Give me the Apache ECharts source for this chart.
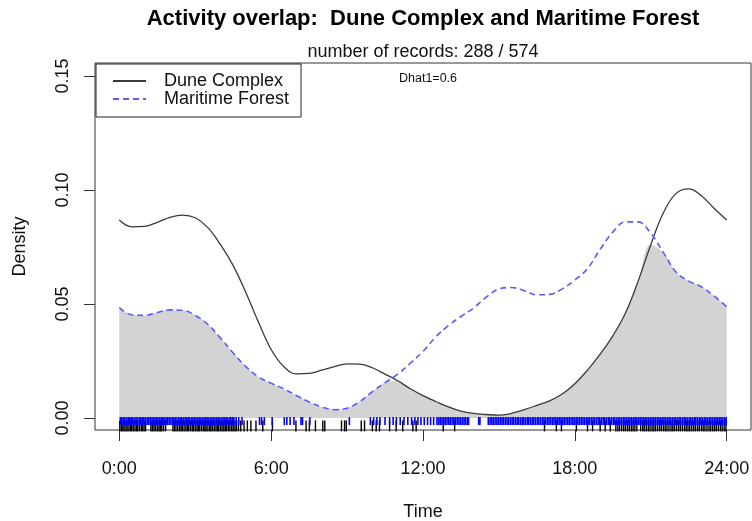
<!DOCTYPE html>
<html><head><meta charset="utf-8">
<script src="https://cdn.jsdelivr.net/npm/echarts@6/dist/echarts.min.js"></script>
<style>html,body{margin:0;padding:0;background:#fff}#c{width:752px;height:521px}</style>
</head><body><div id="c"></div>
<script>
// ---- data ----
const hours = [0,0.5,1,1.5,2,2.5,3,3.5,4,4.5,5,5.5,6,6.5,7,7.5,8,8.5,9,9.5,10,10.5,11,11.5,12,12.5,13,13.5,14,14.5,15,15.5,16,16.5,17,17.5,18,18.5,19,19.5,20,20.5,21,21.5,22,22.5,23,23.5,24];
const duneDensity = [0.0868,0.0838,0.0840,0.0858,0.0880,0.0890,0.0878,0.0835,0.0760,0.0668,0.0550,0.0420,0.0300,0.0225,0.0193,0.0195,0.0210,0.0225,0.0237,0.0236,0.0220,0.0192,0.0163,0.0128,0.0098,0.0072,0.0048,0.0030,0.0020,0.0015,0.0012,0.0020,0.0036,0.0055,0.0075,0.0105,0.0150,0.0210,0.0280,0.0360,0.0460,0.0600,0.0760,0.0900,0.0985,0.1005,0.0975,0.0920,0.0868];
const forestDensity = [0.0484,0.0452,0.0450,0.0462,0.0474,0.0472,0.0450,0.0410,0.0350,0.0285,0.0225,0.0180,0.0152,0.0128,0.0098,0.0070,0.0048,0.0036,0.0042,0.0072,0.0115,0.0155,0.0192,0.0240,0.0292,0.0355,0.0405,0.0445,0.0482,0.0530,0.0565,0.0572,0.0558,0.0540,0.0542,0.0566,0.0605,0.0655,0.0740,0.0815,0.0860,0.0860,0.0810,0.0725,0.0640,0.0600,0.0575,0.0535,0.0488];
const duneRug = [0.02,0.08,0.14,0.19,0.26,0.31,0.38,0.44,0.49,0.55,0.62,0.68,0.73,0.8,0.87,0.92,0.98,1.04,1.25,1.31,1.37,1.43,1.5,1.57,1.62,1.68,1.75,1.83,2.12,2.18,2.24,2.31,2.38,2.44,2.49,2.56,2.63,2.69,2.74,2.81,2.88,2.93,3.0,3.07,3.12,3.18,3.25,3.32,3.38,3.43,3.5,3.57,3.62,3.68,3.75,3.82,3.88,3.93,4.0,4.06,4.13,4.19,4.24,4.31,4.37,4.44,4.5,4.57,4.63,4.71,4.8,4.93,5.06,5.2,5.4,5.67,6.05,6.98,7.38,7.51,7.75,8.04,8.12,8.78,8.9,8.97,9.56,9.69,10.0,10.15,10.28,10.68,10.94,11.2,11.6,11.73,12.8,13.25,16.8,17.27,17.47,18.06,18.5,18.7,19.0,19.2,19.4,19.62,19.7,19.77,19.85,19.93,20.0,20.08,20.15,20.23,20.3,20.37,20.45,20.6,20.68,20.74,20.82,20.9,20.97,21.05,21.12,21.19,21.27,21.35,21.42,21.5,21.57,21.64,21.72,21.8,21.87,21.94,22.02,22.1,22.17,22.25,22.33,22.4,22.47,22.54,22.62,22.7,22.77,22.85,22.92,23.0,23.07,23.14,23.22,23.3,23.37,23.45,23.52,23.59,23.67,23.75,23.82,23.9,23.97];
const forestRug = [0.04,0.1,0.16,0.22,0.29,0.35,0.41,0.47,0.53,0.6,0.66,0.72,0.79,0.85,0.91,0.97,1.03,1.1,1.16,1.22,1.29,1.35,1.41,1.47,1.53,1.6,1.66,1.72,1.78,1.85,1.91,1.97,2.04,2.1,2.16,2.22,2.28,2.35,2.41,2.47,2.54,2.6,2.66,2.72,2.78,2.85,2.91,2.97,3.03,3.1,3.16,3.22,3.29,3.35,3.41,3.47,3.53,3.6,3.66,3.72,3.78,3.85,3.91,3.97,4.04,4.1,4.16,4.22,4.28,4.35,4.41,4.47,4.53,4.62,4.72,4.85,5.54,5.62,5.73,6.04,6.52,6.62,6.75,6.9,7.18,7.24,7.53,9.09,9.92,10.05,10.18,10.3,10.5,10.68,10.82,10.95,11.1,11.25,11.4,11.55,11.68,11.8,11.92,12.05,12.18,12.3,12.42,12.55,12.62,12.68,12.75,12.82,12.88,12.95,13.02,13.08,13.15,13.22,13.28,13.35,13.42,13.48,13.55,13.62,13.68,13.75,13.8,14.2,14.25,14.58,14.65,14.72,14.78,14.85,14.92,14.98,15.05,15.12,15.18,15.25,15.32,15.38,15.45,15.52,15.58,15.65,15.72,15.78,15.85,15.92,15.98,16.05,16.12,16.18,16.25,16.32,16.38,16.45,16.52,16.58,16.65,16.72,16.78,16.85,16.92,16.98,17.05,17.12,17.18,17.25,17.32,17.38,17.45,17.52,17.58,17.65,17.72,17.78,17.85,17.92,17.98,18.05,18.12,18.18,18.25,18.32,18.38,18.45,18.52,18.58,18.65,18.72,18.78,18.85,18.92,18.98,19.05,19.12,19.18,19.25,19.32,19.38,19.45,19.52,19.58,19.65,19.72,19.78,19.85,19.92,19.98,20.05,20.12,20.18,20.25,20.32,20.38,20.45,20.52,20.58,20.65,20.72,20.78,20.85,20.92,20.98,21.05,21.12,21.18,21.25,21.32,21.38,21.45,21.52,21.58,21.65,21.72,21.78,21.85,21.92,21.98,22.05,22.12,22.18,22.25,22.32,22.38,22.45,22.52,22.58,22.65,22.72,22.78,22.85,22.92,22.98,23.05,23.12,23.18,23.25,23.32,23.38,23.45,23.52,23.58,23.65,23.72,23.78,23.85,23.92,23.98];
const xTicks = [0,6,12,18,24];
const xTickLabels = ['0:00','6:00','12:00','18:00','24:00'];
const yTicks = [0,0.05,0.1,0.15];
const yTickLabels = ['0.00','0.05','0.10','0.15'];
const seriesNames = ['Dune Complex','Maritime Forest'];
const titleText = 'Activity overlap:  Dune Complex and Maritime Forest';
const subText = 'number of records: 288 / 574';
const dhatText = 'Dhat1=0.6';

// ---- build ----
const FONT = '"Liberation Sans", Arial, sans-serif';
const duneData = hours.map((h,i)=>[h,duneDensity[i]]);
const forestData = hours.map((h,i)=>[h,forestDensity[i]]);
const overlapData = hours.map((h,i)=>[h,Math.min(duneDensity[i],forestDensity[i])]);
const RUG_A_Y = -0.0035, RUG_B_Y = -0.0014;

const chart = echarts.init(document.getElementById('c'), null, {renderer:'canvas'});
chart.setOption({
  animation:false,
  backgroundColor:'#fff',
  grid:{left:95,right:1,top:63,bottom:91,show:true,borderColor:'#333',borderWidth:1,backgroundColor:'transparent',
    containLabel:false,outerBoundsMode:'none'},
  xAxis:{type:'value',min:-0.96,max:24.96,
    name:'Time',nameLocation:'middle',nameGap:73,nameTextStyle:{fontFamily:FONT,fontSize:18,color:'#111'},
    axisLine:{show:false,onZero:false},
    axisTick:{show:true,customValues:xTicks,length:11,lineStyle:{color:'#333',width:1}},
    axisLabel:{customValues:xTicks,margin:30,fontFamily:FONT,fontSize:18,color:'#111',
      formatter:v=>xTickLabels[xTicks.indexOf(v)]},
    splitLine:{show:false}},
  yAxis:{type:'value',min:-0.0053,max:0.1557,
    name:'Density',nameLocation:'middle',nameGap:66,nameRotate:90,nameTextStyle:{fontFamily:FONT,fontSize:18,color:'#111'},
    axisLine:{show:false,onZero:false},
    axisTick:{show:true,customValues:yTicks,length:11,lineStyle:{color:'#333',width:1}},
    axisLabel:{customValues:yTicks,rotate:90,margin:23,fontFamily:FONT,fontSize:18,color:'#111',
      formatter:v=>yTickLabels[yTicks.findIndex(t=>Math.abs(t-v)<1e-9)]},
    splitLine:{show:false}},
  legend:{left:96,top:64,orient:'vertical',data:seriesNames,
    borderColor:'#222',borderWidth:1,borderRadius:0,padding:[8,12,9,16],
    itemWidth:33,itemHeight:14,itemGap:0,
    itemStyle:{opacity:0,borderWidth:0},
    textStyle:{fontFamily:FONT,fontSize:18,color:'#111',lineHeight:18,padding:[0,0,0,13]}},
  graphic:[
    {type:'text',x:423,y:19,style:{text:titleText,font:'bold 22px '+FONT,fill:'#000',align:'center',verticalAlign:'middle'}},
    {type:'text',x:423,y:52,style:{text:subText,font:'18px '+FONT,fill:'#111',align:'center',verticalAlign:'middle'}},
    {type:'text',x:428,y:79,style:{text:dhatText,font:'12.5px '+FONT,fill:'#111',align:'center',verticalAlign:'middle'}}
  ],
  series:[
    {type:'line',name:'overlap',data:overlapData,smooth:0.4,showSymbol:false,symbol:'none',
      lineStyle:{width:0},areaStyle:{color:'#d3d3d3',opacity:1},z:1,silent:true},
    {type:'line',name:seriesNames[0],data:duneData,smooth:0.4,showSymbol:false,symbol:'none',
      lineStyle:{color:'#3a3a3a',width:1.3,type:'solid'},itemStyle:{color:'#3a3a3a'},z:3},
    {type:'line',name:seriesNames[1],data:forestData,smooth:0.4,showSymbol:false,symbol:'none',
      lineStyle:{color:'#5a5aff',width:1.6,type:[6,4]},itemStyle:{color:'#5a5aff'},z:3},
    {type:'scatter',name:'rugA',data:duneRug.map(t=>[t,RUG_A_Y]),symbol:'rect',symbolSize:[1.4,11],
      itemStyle:{color:'#000',opacity:1},clip:false,z:4,silent:true},
    {type:'scatter',name:'rugB',data:forestRug.map(t=>[t,RUG_B_Y]),symbol:'rect',symbolSize:[1.6,8],
      itemStyle:{color:'#0000ff',opacity:1},clip:false,z:5,silent:true}
  ]
});
</script></body></html>
